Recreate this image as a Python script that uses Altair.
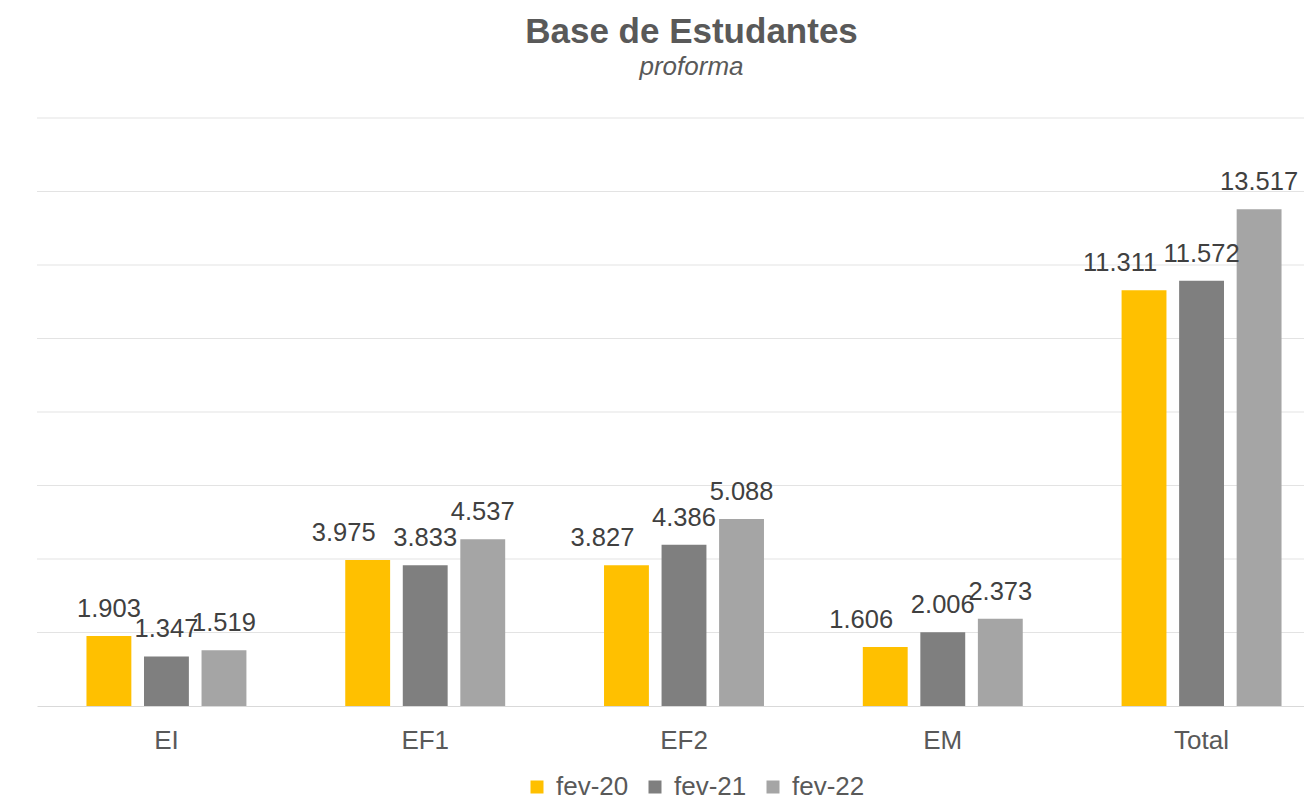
import altair as alt
import pandas as pd

categorias = ["EI", "EF1", "EF2", "EM", "Total"]
series = ["fev-20", "fev-21", "fev-22"]
fev20 = [1903, 3975, 3827, 1606, 11311]
fev21 = [1347, 3833, 4386, 2006, 11572]
fev22 = [1519, 4537, 5088, 2373, 13517]
cores = ["#FFC000", "#7F7F7F", "#A5A5A5"]
grade = [2000, 4000, 6000, 8000, 10000, 12000, 14000, 16000]

rows = []
for s, vals in zip(series, [fev20, fev21, fev22]):
    for c, v in zip(categorias, vals):
        rows.append({"cat": c, "serie": s, "valor": v})
df = pd.DataFrame(rows)
df_grade = pd.DataFrame({"g": grade})

FONT = "Liberation Sans"
W, H = 1267, 588
yscale = alt.Scale(domain=[0, 16000], nice=False)

grid = alt.Chart(df_grade).mark_rule(color="#E3E3E3", strokeWidth=1).encode(
    y=alt.Y("g:Q", scale=yscale, axis=None)
)

base = alt.Chart(df).encode(
    x=alt.X(
        "cat:N", sort=categorias,
        scale=alt.Scale(range=[0, 1294], paddingInner=0.333, paddingOuter=0.1667),
        axis=alt.Axis(title=None, labelAngle=0, ticks=False, grid=False,
                      domainColor="#D9D9D9",
                      labelFont=FONT, labelFontSize=26, labelColor="#595959",
                      labelPadding=21),
    ),
    xOffset=alt.XOffset("serie:N", sort=series,
                        scale=alt.Scale(paddingInner=0.22, paddingOuter=0.11)),
    y=alt.Y("valor:Q", scale=yscale, axis=None),
)

bars = base.mark_bar().encode(
    color=alt.Color(
        "serie:N", sort=series,
        scale=alt.Scale(domain=series, range=cores),
        legend=alt.Legend(
            title=None, orient="none", direction="horizontal",
            legendX=487, legendY=656, padding=0,
            symbolType="square", symbolSize=169, symbolStrokeWidth=0,
            labelFont=FONT, labelFontSize=26, labelColor="#595959",
            labelOffset=6, columnPadding=13,
        ),
    )
)

lbl_expr = "replace(format(datum.valor, ','), ',', '.')"
txt_style = dict(baseline="alphabetic", dy=-19, font=FONT, fontSize=25.5, color="#404040")

labels_center = base.transform_filter(
    "datum.serie != 'fev-20' || datum.cat == 'EI'"
).transform_calculate(lbl=lbl_expr).mark_text(**txt_style).encode(text="lbl:N")

labels_left = base.transform_filter(
    "datum.serie == 'fev-20' && datum.cat != 'EI'"
).transform_calculate(lbl=lbl_expr).mark_text(dx=-24, **txt_style).encode(text="lbl:N")

chart = (
    alt.layer(grid, bars, labels_center, labels_left)
    .properties(
        width=W, height=H,
        autosize=alt.AutoSizeParams(type="none"),
        padding={"left": 29, "top": 110, "right": 0, "bottom": 97},
        view=alt.ViewBackground(stroke="transparent", strokeWidth=0),
        title=alt.TitleParams(
            "Base de Estudantes", subtitle="proforma",
            font=FONT, fontSize=35, fontWeight="bold", color="#595959",
            subtitleFont=FONT, subtitleFontSize=26, subtitleFontStyle="italic",
            subtitleColor="#595959", anchor="middle", dx=21, offset=38,
            subtitlePadding=4,
        ),
    )
    .configure_view(stroke="transparent", strokeWidth=0, strokeOpacity=0)
    .configure(background="white")
)

chart.save("out.html", embed_options={"renderer": "svg", "actions": False})
